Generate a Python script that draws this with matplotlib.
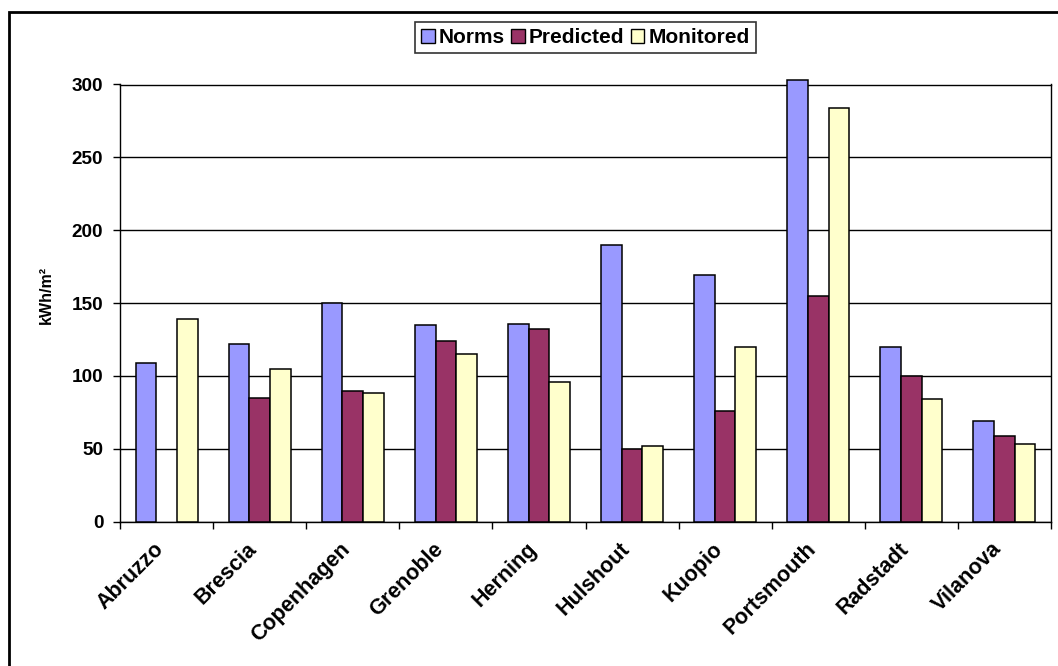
import numpy as np
import matplotlib
matplotlib.use("Agg")
import matplotlib.pyplot as plt
from matplotlib.patches import Rectangle, Patch
from matplotlib.transforms import ScaledTranslation

categories = ["Abruzzo", "Brescia", "Copenhagen", "Grenoble", "Herning",
              "Hulshout", "Kuopio", "Portsmouth", "Radstadt", "Vilanova"]
norms = [109, 122, 150, 135, 136, 190, 169, 303, 120, 69]
predicted = [np.nan, 85, 90, 124, 132, 50, 76, 155, 100, 59]
monitored = [139, 105, 88, 115, 96, 52, 120, 284, 84, 53]
series_names = ["Norms", "Predicted", "Monitored"]
colors = ["#9999FF", "#993366", "#FFFFCC"]
yticks = [0, 50, 100, 150, 200, 250, 300]

plt.rcParams['font.family'] = ['Liberation Sans', 'DejaVu Sans']
plt.rcParams['font.weight'] = 'bold'

W, H = 1058, 666
fig = plt.figure(figsize=(W / 100, H / 100), dpi=100)
ax = fig.add_axes([120 / W, 1 - 521.7 / H, (1051 - 120) / W, (521.7 - 84.5) / H])

x = np.arange(len(categories))
bw = 1 / 4.5
series = [norms, predicted, monitored]
for i, (vals, c) in enumerate(zip(series, colors)):
    ax.bar(x + (i - 1) * bw, vals, width=bw, color=c, edgecolor='black',
           linewidth=1.1, zorder=3, clip_on=False)

ax.set_xlim(-0.5, len(categories) - 0.5)
ax.set_ylim(0, 300)
ax.set_yticks(yticks)
ax.set_yticklabels([str(t) for t in yticks], fontsize=13.7, fontweight='bold')
ax.yaxis.grid(True, color='black', linewidth=1.0, zorder=1)
ax.set_axisbelow(True)

ax.set_xticks(np.arange(len(categories) + 1) - 0.5)
ax.set_xticklabels([])
ax.set_xticks(x, minor=True)
ax.set_xticklabels(categories, minor=True, rotation=45, ha='right',
                   rotation_mode='anchor', fontsize=15.5, fontweight='bold')
ax.tick_params(axis='x', which='minor', length=0, pad=12)
ax.tick_params(axis='x', which='major', length=5, width=1, direction='out')
ax.tick_params(axis='y', length=5, width=1, direction='out', pad=7)
shift = ScaledTranslation(-13 / 100, 0 / 100, fig.dpi_scale_trans)
for lab in ax.get_xticklabels(minor=True):
    lab.set_transform(lab.get_transform() + shift)

for s in ax.spines.values():
    s.set_color('black')
    s.set_linewidth(1.0)

ax.set_ylabel("kWh/m²", fontsize=11.5, fontweight='bold')
ax.yaxis.set_label_coords((54 - 120) / 931, (521.7 - 295) / 437.2)

handles = [Patch(facecolor=c, edgecolor='black', linewidth=1.0, label=n)
           for c, n in zip(colors, series_names)]
leg = fig.legend(handles=handles, loc='center', bbox_to_anchor=(585.5 / W, 1 - 37.5 / H),
                 ncol=3, frameon=True, fancybox=False, edgecolor='black',
                 prop={'weight': 'bold', 'size': 15},
                 handlelength=0.65, handleheight=0.65, handletextpad=0.2,
                 columnspacing=0.3, borderpad=0.3, borderaxespad=0)
leg.get_frame().set_linewidth(1.2)

# outer chart frame (partially cropped)
fig.add_artist(Rectangle((9 / W, -0.1), 1.2, 1 - 12 / H + 0.1, transform=fig.transFigure,
                         fill=False, edgecolor='black', linewidth=2.0))

fig.savefig("out.png", dpi=100)
